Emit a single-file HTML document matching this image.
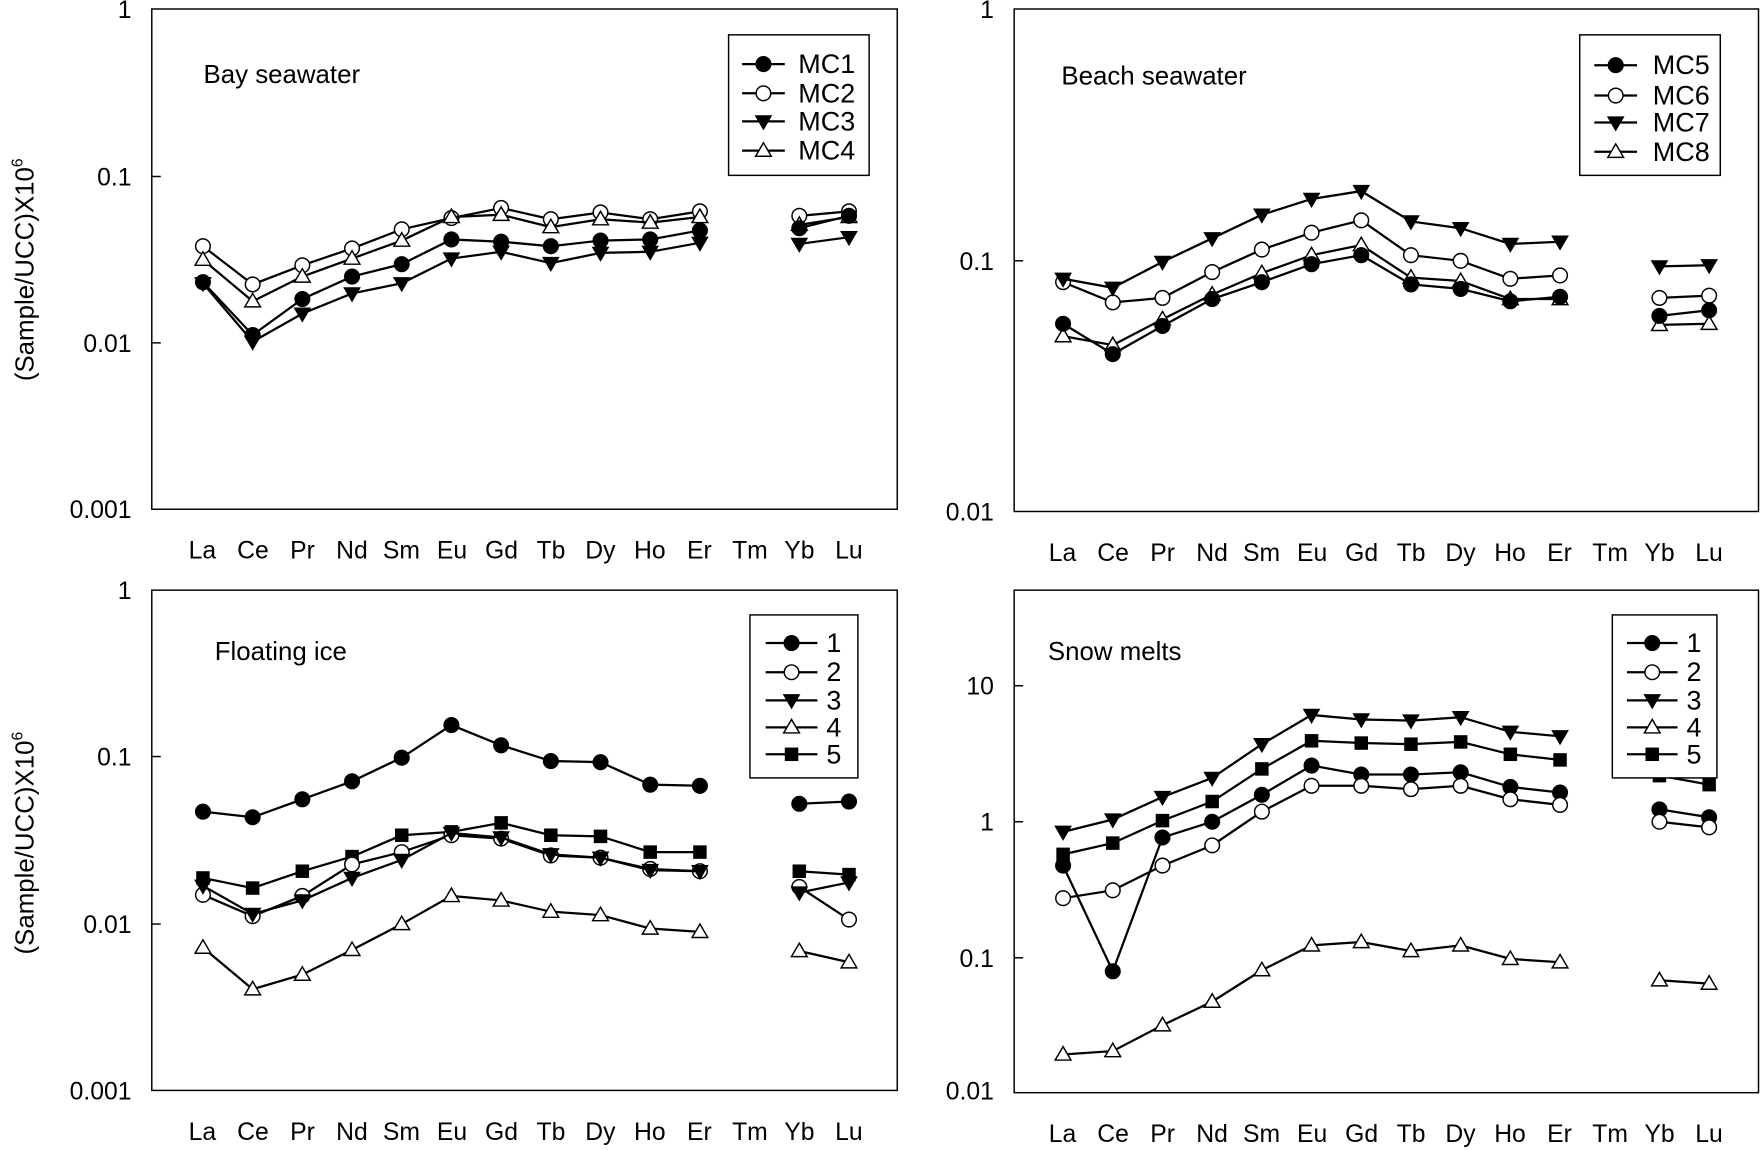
<!DOCTYPE html>
<html><head><meta charset="utf-8"><style>
html,body{margin:0;padding:0;background:#fff}
svg{display:block}
text{font-family:"Liberation Sans",Arial,sans-serif;fill:#000}
</style></head><body>
<svg id="s" width="1763" height="1150" viewBox="0 0 1568 1023" preserveAspectRatio="none" xmlns="http://www.w3.org/2000/svg">
<g fill="none" stroke="#000" stroke-width="1.3">
<rect x="135" y="8" width="663" height="445"/>
<rect x="902" y="8" width="662" height="447"/>
<rect x="135" y="525" width="663" height="445"/>
<rect x="902" y="525" width="662" height="447"/>
</g>
<g id="data"></g>
<g font-size="22" text-anchor="end">
<text x="117" y="16">1</text><text x="117" y="165">0.1</text><text x="117" y="313">0.01</text><text x="117" y="461">0.001</text>
<text x="884" y="16">1</text><text x="884" y="240">0.1</text><text x="884" y="463">0.01</text>
<text x="117" y="533">1</text><text x="117" y="681">0.1</text><text x="117" y="830">0.01</text><text x="117" y="978">0.001</text>
<text x="884" y="618">10</text><text x="884" y="739">1</text><text x="884" y="860">0.1</text><text x="884" y="978">0.01</text>
</g>
<g font-size="23" text-anchor="middle">
<text transform="translate(30,240) rotate(-90)">(Sample/UCC)X10<tspan font-size="14" dy="-10">6</tspan></text>
<text transform="translate(30,750) rotate(-90)">(Sample/UCC)X10<tspan font-size="14" dy="-10">6</tspan></text>
</g>
<g font-size="22" text-anchor="middle">
<text x="180" y="497">La</text><text x="225" y="497">Ce</text><text x="269" y="497">Pr</text><text x="313" y="497">Nd</text><text x="357" y="497">Sm</text><text x="402" y="497">Eu</text><text x="446" y="497">Gd</text><text x="490" y="497">Tb</text><text x="534" y="497">Dy</text><text x="578" y="497">Ho</text><text x="622" y="497">Er</text><text x="667" y="497">Tm</text><text x="711" y="497">Yb</text><text x="755" y="497">Lu</text>
<text x="945" y="499">La</text><text x="990" y="499">Ce</text><text x="1034" y="499">Pr</text><text x="1078" y="499">Nd</text><text x="1122" y="499">Sm</text><text x="1167" y="499">Eu</text><text x="1211" y="499">Gd</text><text x="1255" y="499">Tb</text><text x="1299" y="499">Dy</text><text x="1343" y="499">Ho</text><text x="1387" y="499">Er</text><text x="1432" y="499">Tm</text><text x="1476" y="499">Yb</text><text x="1520" y="499">Lu</text>
<text x="180" y="1014">La</text><text x="225" y="1014">Ce</text><text x="269" y="1014">Pr</text><text x="313" y="1014">Nd</text><text x="357" y="1014">Sm</text><text x="402" y="1014">Eu</text><text x="446" y="1014">Gd</text><text x="490" y="1014">Tb</text><text x="534" y="1014">Dy</text><text x="578" y="1014">Ho</text><text x="622" y="1014">Er</text><text x="667" y="1014">Tm</text><text x="711" y="1014">Yb</text><text x="755" y="1014">Lu</text>
<text x="945" y="1016">La</text><text x="990" y="1016">Ce</text><text x="1034" y="1016">Pr</text><text x="1078" y="1016">Nd</text><text x="1122" y="1016">Sm</text><text x="1167" y="1016">Eu</text><text x="1211" y="1016">Gd</text><text x="1255" y="1016">Tb</text><text x="1299" y="1016">Dy</text><text x="1343" y="1016">Ho</text><text x="1387" y="1016">Er</text><text x="1432" y="1016">Tm</text><text x="1476" y="1016">Yb</text><text x="1520" y="1016">Lu</text>
</g>
<g font-size="23">
<text x="181" y="74">Bay seawater</text>
<text x="944" y="75">Beach seawater</text>
<text x="191" y="587">Floating ice</text>
<text x="932" y="587">Snow melts</text>
</g>
<g id="leg"></g>
<g font-size="24">
<text x="710" y="65">MC1</text><text x="710" y="91">MC2</text><text x="710" y="116">MC3</text><text x="710" y="142">MC4</text>
<text x="1470" y="66">MC5</text><text x="1470" y="93">MC6</text><text x="1470" y="117">MC7</text><text x="1470" y="143">MC8</text>
<text x="735" y="580">1</text><text x="735" y="606">2</text><text x="735" y="631">3</text><text x="735" y="655">4</text><text x="735" y="679">5</text>
<text x="1500" y="580">1</text><text x="1500" y="606">2</text><text x="1500" y="631">3</text><text x="1500" y="655">4</text><text x="1500" y="679">5</text>
</g>
<script>
(function(){
var NS="http://www.w3.org/2000/svg";
function el(p,t,a){var e=document.createElementNS(NS,t);for(var k in a)e.setAttribute(k,a[k]);p.appendChild(e);return e;}
function mk(p,type,x,y){
 var r=6.5;
 if(type=="fc")el(p,"circle",{cx:x,cy:y,r:r,fill:"#000",stroke:"#000","stroke-width":1.3});
 else if(type=="oc")el(p,"circle",{cx:x,cy:y,r:r,fill:"#fff",stroke:"#000","stroke-width":1.3});
 else if(type=="ft")el(p,"polygon",{points:(x-7)+","+(y-5)+" "+(x+7)+","+(y-5)+" "+x+","+(y+7),fill:"#000",stroke:"#000","stroke-width":1});
 else if(type=="ot")el(p,"polygon",{points:(x-7)+","+(y+5)+" "+(x+7)+","+(y+5)+" "+x+","+(y-7),fill:"#fff",stroke:"#000","stroke-width":1.3});
 else if(type=="sq")el(p,"rect",{x:x-6,y:y-6,width:12,height:12,fill:"#000"});
}
var d=document.getElementById("data"),lg=document.getElementById("leg");
function xs(x0){var a=[];for(var i=0;i<14;i++)a.push(x0+i*44.2);return a;}
function series(x0,ys,type){
 var X=xs(x0),pts=[];
 for(var i=0;i<11;i++)pts.push(X[i]+","+ys[i]);
 el(d,"polyline",{points:pts.join(" "),fill:"none",stroke:"#000","stroke-width":2});
 el(d,"line",{x1:X[12],y1:ys[11],x2:X[13],y2:ys[12],stroke:"#000","stroke-width":2});
 for(var i=0;i<11;i++)mk(d,type,X[i],ys[i]);
 mk(d,type,X[12],ys[11]);mk(d,type,X[13],ys[12]);
}
function ticks(x0,yvals){
 yvals.forEach(function(y){el(d,"line",{x1:x0,y1:y,x2:x0+8,y2:y,stroke:"#000","stroke-width":1.3});});
}
ticks(135,[157,305]);ticks(902,[232]);ticks(135,[673,822]);ticks(902,[610,731,852]);
var P1=180.5,P2=945.5;
series(P1,[219,253,236,221,204,194,185,195,189,195,188,192,188],"oc");
series(P1,[231,268,246,230,214,193,191,202,195,198,193,200,193],"ot");
series(P1,[251,298,266,246,235,213,215,219,214,213,205,203,192],"fc");
series(P1,[252,304,279,261,252,230,224,234,225,224,216,217,211],"ft");
series(P2,[251,269,265,242,222,207,196,227,232,248,245,265,263],"oc");
series(P2,[299,307,284,262,243,227,218,247,250,266,266,289,288],"ot");
series(P2,[288,315,290,266,251,235,227,253,257,268,264,281,276],"fc");
series(P2,[248,256,233,212,191,177,170,197,203,217,215,237,236],"ft");
series(P1,[722,727,711,695,674,645,663,677,678,698,699,715,713],"fc");
series(P1,[781,790,775,762,743,740,732,743,744,758,758,775,778],"sq");
series(P1,[796,815,797,769,758,743,746,761,763,773,775,789,818],"oc");
series(P1,[788,813,801,781,765,741,745,760,763,774,775,794,785],"ft");
series(P1,[843,880,867,845,822,797,801,811,814,826,829,846,856],"ot");
series(P2,[770,864,745,731,707,681,689,689,687,700,705,720,727],"fc");
series(P2,[799,792,770,752,722,699,699,702,699,711,716,731,736],"oc");
series(P2,[740,729,709,692,662,636,640,641,638,651,655,680,678],"ft");
series(P2,[938,935,912,891,863,841,838,846,841,853,856,872,875],"ot");
series(P2,[760,750,730,713,684,659,661,662,660,671,676,690,698],"sq");
function legend(bx,by,bw,bh,lx1,lx2,ys,types){
 el(lg,"rect",{x:bx,y:by,width:bw,height:bh,fill:"#fff",stroke:"#000","stroke-width":1.3});
 ys.forEach(function(y,i){el(lg,"line",{x1:lx1,y1:y,x2:lx2,y2:y,stroke:"#000","stroke-width":2});mk(lg,types[i],(lx1+lx2)/2,y);});
}
legend(648,31,125,125,660,698,[57,83,108,134],["fc","oc","ft","ot"]);
legend(1405,31,125,125,1418,1456,[58,85,109,135],["fc","oc","ft","ot"]);
legend(667,547,96,145,681,727,[572,598,623,647,671],["fc","oc","ft","ot","sq"]);
legend(1434,547,93,145,1447,1492,[572,598,623,647,671],["fc","oc","ft","ot","sq"]);
})();
</script>
</svg>
</body></html>
